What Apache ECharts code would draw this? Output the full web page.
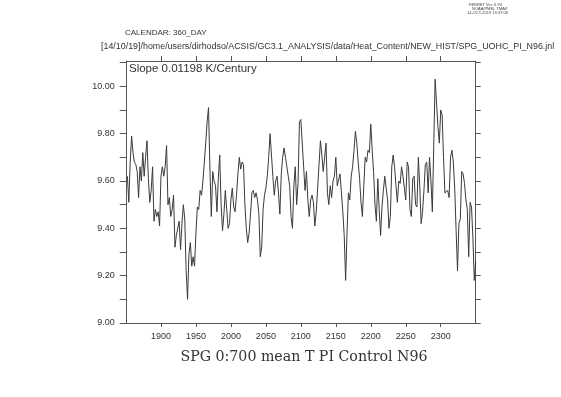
<!DOCTYPE html>
<html>
<head>
<meta charset="utf-8">
<script src="https://cdn.jsdelivr.net/npm/echarts@6/dist/echarts.min.js"></script>
<style>
html, body { margin: 0; padding: 0; background: #fff; }
#chart { width: 561px; height: 397px; }
</style>
</head>
<body>
<div id="chart"></div>
<script>
// values, one every 2 years starting 1852
var temp1852to1934 = [9.62, 9.51, 9.68, 9.79, 9.72, 9.68, 9.67, 9.64, 9.53, 9.66,
    9.60, 9.72, 9.62, 9.70, 9.77, 9.61, 9.51, 9.56, 9.66, 9.43,
    9.48, 9.45, 9.47, 9.41, 9.62, 9.66, 9.62, 9.66, 9.75, 9.50,
    9.53, 9.45, 9.48, 9.54, 9.32, 9.37, 9.40, 9.43, 9.31, 9.42,
    9.50, 9.44];
var temp1936to2020 = [9.22, 9.10, 9.29, 9.34, 9.24, 9.28, 9.24, 9.38, 9.49, 9.48,
    9.56, 9.54, 9.60, 9.68, 9.76, 9.85, 9.91, 9.65, 9.45, 9.64,
    9.60, 9.58, 9.47, 9.61, 9.71, 9.50, 9.39, 9.46, 9.56, 9.48,
    9.40, 9.42, 9.52, 9.57, 9.49, 9.47, 9.54, 9.63, 9.70, 9.65,
    9.68, 9.67, 9.50];
var temp2022to2106 = [9.40, 9.34, 9.38, 9.46, 9.55, 9.56, 9.53, 9.55, 9.52, 9.46,
    9.28, 9.32, 9.48, 9.54, 9.57, 9.62, 9.70, 9.80, 9.80, 9.62,
    9.54, 9.60, 9.62, 9.55, 9.46, 9.63, 9.70, 9.74, 9.70, 9.66,
    9.62, 9.58, 9.45, 9.40, 9.58, 9.66, 9.50, 9.59, 9.85, 9.86,
    9.76, 9.66, 9.56];
var temp2108to2192 = [9.64, 9.52, 9.45, 9.52, 9.54, 9.51, 9.41, 9.47, 9.57, 9.67,
    9.77, 9.71, 9.64, 9.70, 9.76, 9.55, 9.50, 9.58, 9.53, 9.60,
    9.62, 9.70, 9.58, 9.58, 9.63, 9.55, 9.47, 9.37, 9.18, 9.38,
    9.55, 9.52, 9.62, 9.66, 9.73, 9.81, 9.76, 9.68, 9.61, 9.51,
    9.45, 9.58, 9.70];
var temp2194to2278 = [9.68, 9.73, 9.72, 9.84, 9.73, 9.64, 9.50, 9.43, 9.61, 9.48,
    9.37, 9.49, 9.56, 9.62, 9.62, 9.52, 9.40, 9.45, 9.66, 9.71,
    9.66, 9.58, 9.51, 9.60, 9.59, 9.66, 9.62, 9.57, 9.52, 9.68,
    9.66, 9.48, 9.45, 9.61, 9.62, 9.50, 9.49, 9.70, 9.58, 9.42,
    9.47, 9.56, 9.67];
var temp2280to2350 = [9.68, 9.55, 9.70, 9.60, 9.47, 9.75, 10.03, 9.93, 9.83, 9.76,
    9.90, 9.88, 9.70, 9.55, 9.55, 9.56, 9.53, 9.70, 9.73, 9.68,
    9.57, 9.39, 9.22, 9.42, 9.44, 9.64, 9.63, 9.59, 9.52, 9.48,
    9.28, 9.51, 9.49, 9.36, 9.18, 9.26];

var firstYear = 1852;
var yearStep = 2;

var xTickYears = [1900, 1950, 2000, 2050, 2100, 2150, 2200, 2250, 2300];
var yLabelValues = [9.0, 9.2, 9.4, 9.6, 9.8, 10.0];
var yTickValues = [9.0, 9.1, 9.2, 9.3, 9.4, 9.5, 9.6, 9.7, 9.8, 9.9, 10.0, 10.1];

var temps = [].concat(temp1852to1934, temp1936to2020, temp2022to2106,
    temp2108to2192, temp2194to2278, temp2280to2350);
var seriesData = temps.map(function (v, i) { return [firstYear + yearStep * i, v]; });

var frameColor = '#555';
var labelFont = 'Liberation Sans';

var myChart = echarts.init(document.getElementById('chart'), null, { renderer: 'canvas' });
var option = {
    animation: false,
    backgroundColor: '#fff',
    grid: { left: 126.7, top: 61, width: 349, height: 262 },
    xAxis: [{
        type: 'value', min: 1851, max: 2350, position: 'bottom',
        axisLine: { show: true, onZero: false, lineStyle: { color: frameColor, width: 1 } },
        axisTick: { show: true, customValues: xTickYears, length: 4, lineStyle: { color: frameColor } },
        axisLabel: {
            customValues: xTickYears, fontSize: 9, fontFamily: labelFont, color: '#333', margin: 9,
            formatter: function (v) { return String(v); }
        },
        splitLine: { show: false }
    }, {
        type: 'value', min: 1851, max: 2350, position: 'top',
        axisLine: { show: true, onZero: false, lineStyle: { color: frameColor, width: 1 } },
        axisTick: { show: true, customValues: xTickYears, length: 5, lineStyle: { color: frameColor } },
        axisLabel: { show: false },
        splitLine: { show: false }
    }],
    yAxis: [{
        type: 'value', min: 9, max: 10.107, position: 'left',
        axisLine: { show: true, onZero: false, lineStyle: { color: frameColor, width: 1 } },
        axisTick: { show: true, customValues: yTickValues, length: 7, lineStyle: { color: frameColor } },
        axisLabel: {
            customValues: yLabelValues, fontSize: 9, fontFamily: labelFont, color: '#333', margin: 12,
            formatter: function (v) { return v.toFixed(2); }
        },
        splitLine: { show: false }
    }, {
        type: 'value', min: 9, max: 10.107, position: 'right',
        axisLine: { show: true, onZero: false, lineStyle: { color: frameColor, width: 1 } },
        axisTick: { show: true, customValues: yTickValues, length: 5, lineStyle: { color: frameColor } },
        axisLabel: { show: false },
        splitLine: { show: false }
    }],
    series: [{
        type: 'line',
        xAxisIndex: 0,
        yAxisIndex: 0,
        data: seriesData,
        showSymbol: false,
        symbol: 'none',
        lineStyle: { color: '#3a3a3a', width: 1 }
    }],
    graphic: [
        { type: 'text', left: 469, top: 3, style: { text: 'FERRET Ver. 6.93', fontSize: 4, fill: '#444', fontFamily: labelFont } },
        { type: 'text', left: 472, top: 7, style: { text: 'NOAA/PMEL TMAP', fontSize: 4, fill: '#444', fontFamily: labelFont } },
        { type: 'text', left: 467, top: 11, style: { text: '14-OCT-2019 13:37:06', fontSize: 4, fill: '#444', fontFamily: labelFont } },
        { type: 'text', left: 125, top: 29, style: { text: 'CALENDAR: 360_DAY', fontSize: 8, fill: '#333', fontFamily: labelFont } },
        { type: 'text', left: 101, top: 42, style: { text: '[14/10/19]/home/users/dirhodso/ACSIS/GC3.1_ANALYSIS/data/Heat_Content/NEW_HIST/SPG_UOHC_PI_N96.jnl', fontSize: 8.9, fill: '#333', fontFamily: labelFont } },
        { type: 'text', left: 129, top: 63, style: { text: 'Slope 0.01198 K/Century', fontSize: 11.5, fill: '#333', fontFamily: labelFont } },
        { type: 'text', x: 304, y: 357, style: { text: 'SPG 0:700 mean T PI Control N96', fontSize: 14.2, fill: '#333', fontFamily: 'DejaVu Serif', align: 'center', verticalAlign: 'middle' } }
    ]
};
myChart.setOption(option);
</script>
</body>
</html>
